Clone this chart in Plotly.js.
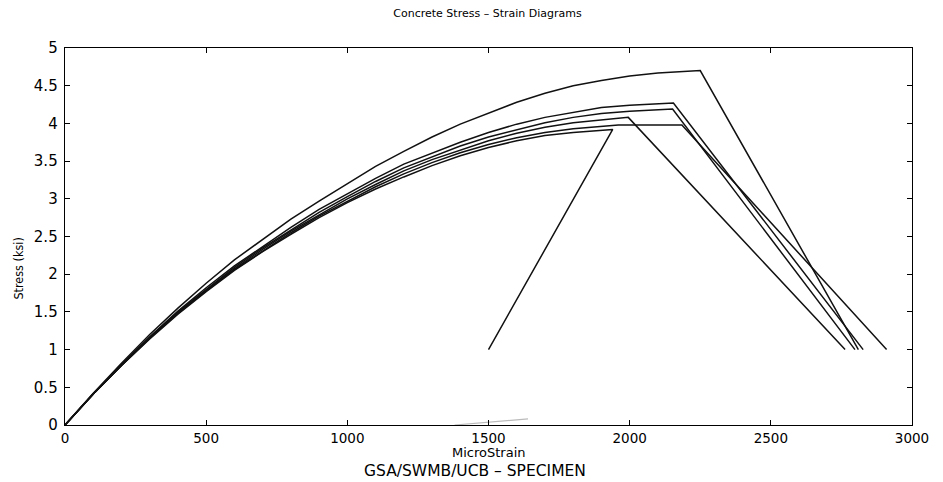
<!DOCTYPE html>
<html>
<head>
<meta charset="utf-8">
<script src="https://cdn.plot.ly/plotly-3.0.1.min.js"></script>
<style>html,body{margin:0;padding:0;background:#fff;}#chart{width:943px;height:482px;}</style>
</head>
<body>
<div id="chart"></div>
<script>
// Strain (microstrain) and stress (ksi)
const strainA = [0, 100, 200, 300, 400, 500, 600, 700, 800, 900, 1000, 1100, 1200, 1300, 1400, 1500, 1600, 1700, 1800, 1900, 2000, 2100, 2200, 2250, 2810];
const stressA = [0, 0.42, 0.82, 1.20, 1.55, 1.88, 2.19, 2.46, 2.73, 2.97, 3.20, 3.43, 3.63, 3.82, 3.99, 4.14, 4.28, 4.40, 4.50, 4.57, 4.63, 4.67, 4.69, 4.70, 1.00];

const strainB = [0, 100, 200, 300, 400, 500, 600, 700, 800, 900, 1000, 1100, 1200, 1300, 1400, 1500, 1600, 1700, 1800, 1900, 2000, 2100, 2155, 2827];
const stressB = [0, 0.41, 0.80, 1.17, 1.51, 1.82, 2.11, 2.37, 2.62, 2.86, 3.07, 3.27, 3.46, 3.61, 3.75, 3.88, 3.99, 4.08, 4.15, 4.21, 4.24, 4.26, 4.27, 1.00];

const strainC = [0, 100, 200, 300, 400, 500, 600, 700, 800, 900, 1000, 1100, 1200, 1300, 1400, 1500, 1600, 1700, 1800, 1900, 2000, 2100, 2152, 2798];
const stressC = [0, 0.41, 0.80, 1.16, 1.50, 1.80, 2.09, 2.35, 2.59, 2.82, 3.03, 3.23, 3.41, 3.56, 3.70, 3.82, 3.92, 4.01, 4.08, 4.13, 4.16, 4.18, 4.19, 1.00];

const strainD = [0, 100, 200, 300, 400, 500, 600, 700, 800, 900, 1000, 1100, 1200, 1300, 1400, 1500, 1600, 1700, 1800, 1900, 1995, 2763];
const stressD = [0, 0.41, 0.79, 1.15, 1.49, 1.79, 2.07, 2.33, 2.57, 2.79, 3.00, 3.19, 3.37, 3.52, 3.65, 3.77, 3.87, 3.95, 4.01, 4.05, 4.08, 1.00];

const strainE = [0, 100, 200, 300, 400, 500, 600, 700, 800, 900, 1000, 1100, 1200, 1300, 1400, 1500, 1600, 1700, 1800, 1900, 1960, 2185, 2910];
const stressE = [0, 0.41, 0.79, 1.15, 1.48, 1.78, 2.06, 2.31, 2.55, 2.77, 2.97, 3.16, 3.33, 3.48, 3.61, 3.72, 3.81, 3.88, 3.93, 3.96, 3.98, 3.98, 1.00];

const strainF = [0, 100, 200, 300, 400, 500, 600, 700, 800, 900, 1000, 1100, 1200, 1300, 1400, 1500, 1600, 1700, 1800, 1900, 1940, 1500];
const stressF = [0, 0.41, 0.79, 1.14, 1.47, 1.77, 2.05, 2.30, 2.53, 2.75, 2.95, 3.13, 3.29, 3.44, 3.57, 3.68, 3.77, 3.84, 3.88, 3.91, 3.92, 1.00];

// faint scan trace near the base line
const strainFaint = [1380, 1500, 1640];
const stressFaint = [0.0, 0.04, 0.08];

const xTicks = [0, 500, 1000, 1500, 2000, 2500, 3000];
const yTicks = [0, 0.5, 1, 1.5, 2, 2.5, 3, 3.5, 4, 4.5, 5];
const yTickText = ['0', '0.5', '1', '1.5', '2', '2.5', '3', '3.5', '4', '4.5', '5'];

const line = {color: '#111', width: 1.5};
const series = [[strainA, stressA], [strainB, stressB], [strainC, stressC], [strainD, stressD], [strainE, stressE], [strainF, stressF]];
const traces = series.map(s => ({x: s[0], y: s[1], type: 'scatter', mode: 'lines', line: line, hoverinfo: 'skip'}));
traces.push({x: strainFaint, y: stressFaint, type: 'scatter', mode: 'lines', line: {color: '#bbb', width: 1.2}, hoverinfo: 'skip'});

const fontFam = 'DejaVu Sans, Arial, sans-serif';
const layout = {
  width: 943, height: 482,
  margin: {l: 65, r: 31, t: 48, b: 57},
  paper_bgcolor: '#fff', plot_bgcolor: '#fff',
  showlegend: false,
  font: {family: fontFam, color: '#000', size: 12},
  title: {text: 'Concrete Stress \u2013 Strain Diagrams', x: 0.517, xanchor: 'center', y: 0.973, yanchor: 'middle', font: {size: 11, family: fontFam, color: '#000'}},
  xaxis: {
    range: [0, 3000], tickvals: xTicks, ticktext: xTicks.map(String),
    ticks: 'inside', ticklen: 5, tickcolor: '#000', showline: true, linecolor: '#000', linewidth: 1.3,
    mirror: 'ticks', showgrid: false, zeroline: false, ticklabelstandoff: 0,
    tickfont: {size: 13.5, family: fontFam, color: '#000'}
  },
  yaxis: {
    range: [0, 5], tickvals: yTicks, ticktext: yTickText,
    ticks: 'inside', ticklen: 5, tickcolor: '#000', showline: true, linecolor: '#000', linewidth: 1.3,
    mirror: 'ticks', showgrid: false, zeroline: false, ticklabelstandoff: 3,
    tickfont: {size: 15, family: fontFam, color: '#000'}
  },
  annotations: [
    {text: 'MicroStrain', xref: 'paper', yref: 'paper', x: 0.5, y: -0.074, xanchor: 'center', yanchor: 'middle', showarrow: false, font: {size: 13, family: fontFam, color: '#000'}},
    {text: 'Stress (ksi)', xref: 'paper', yref: 'paper', x: -0.055, y: 0.416, xanchor: 'center', yanchor: 'middle', textangle: -90, showarrow: false, font: {size: 12.5, family: 'DejaVu Sans Condensed, DejaVu Sans, sans-serif', color: '#000'}},
    {text: 'GSA/SWMB/UCB \u2013 SPECIMEN', xref: 'paper', yref: 'paper', x: 0.484, y: -0.122, xanchor: 'center', yanchor: 'middle', showarrow: false, font: {size: 15.5, family: fontFam, color: '#000'}}
  ]
};

Plotly.newPlot('chart', traces, layout, {staticPlot: true, displayModeBar: false});
</script>
</body>
</html>
